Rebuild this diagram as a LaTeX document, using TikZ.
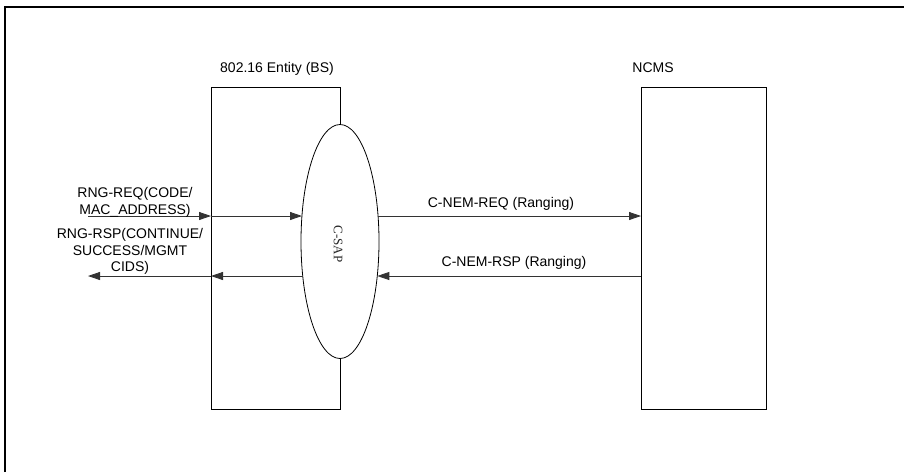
\documentclass[tikz,border=0pt]{standalone}
\usepackage{fontspec}
\setmainfont{Liberation Sans}
\newfontfamily\serifface{Liberation Serif}
\usetikzlibrary{arrows.meta,shapes.geometric}
\begin{document}
\begin{tikzpicture}[x=1pt,y=-1pt,
  lbl/.style={font=\fontsize{14}{16.8}\selectfont, align=center, inner sep=0pt},
  ent/.style={draw=black, line width=0.8pt, rectangle, inner sep=0pt},
  arr/.style={draw=black!80, line width=0.8pt, -{Triangle[length=12pt,width=8pt]}},
  frame/.style={draw=black, line width=1.3pt}]
\useasboundingbox (0,0) rectangle (904,472);
\draw[frame] (5,472) -- (5,7) -- (904,7);
% entities
\node[ent, minimum width=129pt, minimum height=322pt] (bs) at (275.5,248) {};
\node[ent, minimum width=125pt, minimum height=322pt] (ncms) at (703.5,248) {};
\node[ellipse, draw=black, fill=white, line width=0.8pt, minimum width=78pt, minimum height=234pt, inner sep=0pt] (csap) at (340,241.5) {};
\node[font=\serifface\fontsize{13}{13}\selectfont, rotate=-90, inner sep=0pt, text=black!85] (csapt) at (338,244) {C-SAP};
% titles
\node[lbl] (bst) at (277,69) {802.16 Entity (BS)};
\node[lbl] (ncmst) at (653,68) {NCMS};
% coordinates
\coordinate (reqL) at (88,216);
\coordinate (reqB) at (211,216);
\coordinate (reqE) at (302,216);
\coordinate (reqR) at (378,216);
\coordinate (reqN) at (641,216);
\coordinate (rspL) at (88,276);
\coordinate (rspB) at (211,276);
\coordinate (rspE) at (302.7,276);
\coordinate (rspR) at (377.3,276);
\coordinate (rspN) at (641,276);
% connectors
\draw[arr] (reqL) -- (reqB);
\draw[arr] (reqB) -- (reqE);
\draw[arr] (reqR) -- (reqN);
\draw[arr] (rspN) -- (rspR);
\draw[arr] (rspE) -- (rspB);
\draw[arr] (rspB) -- (rspL);
% labels
\node[lbl] (reqlbl) at (135,202) {RNG-REQ(CODE/\\MAC\_ADDRESS)};
\node[lbl] (rsplbl) at (130,251.5) {RNG-RSP(CONTINUE/\\SUCCESS/MGMT\\CIDS)};
\node[lbl] (nemreq) at (501,204) {C-NEM-REQ (Ranging)};
\node[lbl] (nemrsp) at (514,263) {C-NEM-RSP (Ranging)};
\end{tikzpicture}
\end{document}
